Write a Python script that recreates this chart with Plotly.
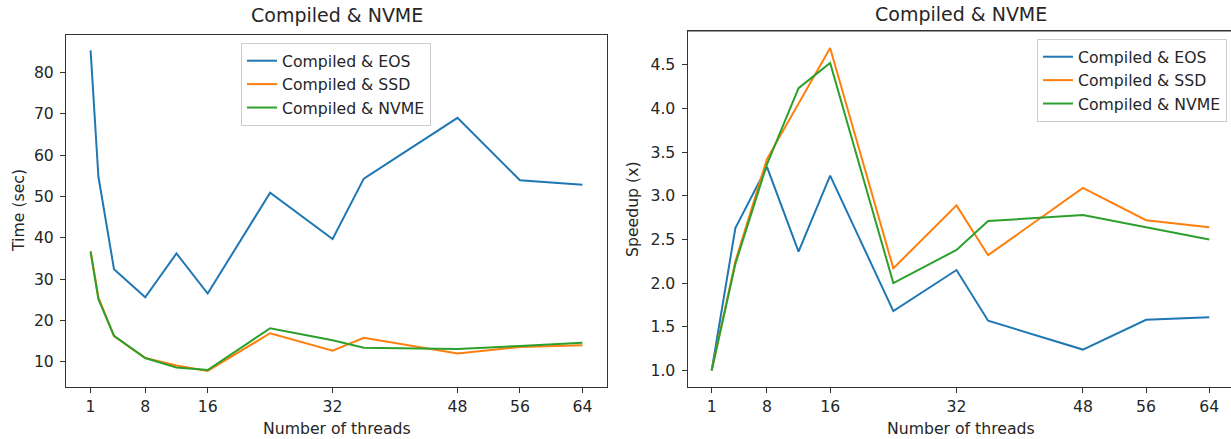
import plotly.graph_objects as go

# Thread counts used for each panel
threads_time = [1, 2, 4, 8, 12, 16, 24, 32, 36, 48, 56, 64]
threads_speedup = [1, 4, 8, 12, 16, 24, 32, 36, 48, 56, 64]
x_ticks = [1, 8, 16, 32, 48, 56, 64]

# Wall-clock time (sec)
time_eos = [85.3, 54.8, 32.4, 25.6, 36.2, 26.5, 50.9, 39.7, 54.3, 69.0, 53.9, 52.8]
time_ssd = [36.8, 25.6, 16.2, 10.9, 9.1, 7.8, 16.9, 12.7, 15.8, 12.0, 13.6, 14.0]
time_nvme = [36.6, 25.1, 16.3, 10.9, 8.6, 8.0, 18.1, 15.2, 13.4, 13.1, 13.8, 14.6]

# Speedup relative to a single thread
speedup_eos = [1.0, 2.63, 3.33, 2.36, 3.23, 1.68, 2.15, 1.57, 1.24, 1.58, 1.61]
speedup_ssd = [1.0, 2.25, 3.42, 4.05, 4.69, 2.17, 2.89, 2.32, 3.09, 2.72, 2.64]
speedup_nvme = [1.0, 2.22, 3.36, 4.23, 4.52, 2.00, 2.38, 2.71, 2.78, 2.64, 2.50]

series_names = ["Compiled & EOS", "Compiled & SSD", "Compiled & NVME"]
colors = ["#1f77b4", "#ff7f0e", "#2ca02c"]

W, H = 1231, 439
FONT = "DejaVu Sans"
TXT = "#262626"
FS = 15.7
FS_TITLE = 19

fig = go.Figure()

for name, ys, c in zip(series_names, [time_eos, time_ssd, time_nvme], colors):
    fig.add_trace(go.Scatter(x=threads_time, y=ys, mode="lines", name=name,
                             line=dict(color=c, width=2),
                             xaxis="x", yaxis="y", legend="legend"))

for name, ys, c in zip(series_names, [speedup_eos, speedup_ssd, speedup_nvme], colors):
    fig.add_trace(go.Scatter(x=threads_speedup, y=ys, mode="lines", name=name,
                             line=dict(color=c, width=2),
                             xaxis="x2", yaxis="y2", legend="legend2"))


def px_x(v):
    return v / W


def px_y(v):
    return 1 - v / H


axis_common = dict(
    showgrid=False, zeroline=False, showline=True, linecolor="#333333",
    linewidth=1, ticks="outside", ticklen=5, tickwidth=1, tickcolor="#333333",
    tickfont=dict(family=FONT, size=FS, color=TXT),
)

legend_common = dict(bgcolor="rgba(255,255,255,0.8)", bordercolor="#cccccc",
                     borderwidth=1, font=dict(family=FONT, size=FS, color=TXT))

fig.update_layout(
    width=W, height=H,
    margin=dict(l=0, r=0, t=0, b=0),
    paper_bgcolor="white", plot_bgcolor="white",
    font=dict(family=FONT, size=FS, color=TXT),
    showlegend=True,
    xaxis=dict(domain=[px_x(66), px_x(607)], range=[-2.15, 67.15],
               tickvals=x_ticks, mirror=True, anchor="y", **axis_common),
    yaxis=dict(domain=[px_y(387), px_y(34.7)], range=[3.9, 89.1],
               tickvals=[10, 20, 30, 40, 50, 60, 70, 80], mirror=True,
               anchor="x", ticklabelstandoff=3, **axis_common),
    xaxis2=dict(domain=[px_x(687.5), 1.0], range=[-2.06, 66.75],
                tickvals=x_ticks, mirror=True, anchor="y2", **axis_common),
    yaxis2=dict(domain=[px_y(386.7), px_y(31)], range=[0.815, 4.885],
                tickvals=[1.0, 1.5, 2.0, 2.5, 3.0, 3.5, 4.0, 4.5],
                ticktext=["1.0", "1.5", "2.0", "2.5", "3.0", "3.5", "4.0", "4.5"],
                mirror=False, anchor="x2", ticklabelstandoff=3, **axis_common),
    legend=dict(x=px_x(336), xanchor="center", y=px_y(43), yanchor="top",
                **legend_common),
    legend2=dict(x=px_x(1227), xanchor="right", y=px_y(39), yanchor="top",
                 **legend_common),
)

# Top border of the right panel
fig.add_shape(type="line", xref="paper", yref="paper",
              x0=px_x(687.5), x1=1.0, y0=px_y(31), y1=px_y(31),
              line=dict(color="#333333", width=1))

annotations = [
    dict(text="Compiled & NVME", x=px_x(336.5), y=px_y(15), size=FS_TITLE),
    dict(text="Compiled & NVME", x=px_x(960.5), y=px_y(14), size=FS_TITLE),
    dict(text="Number of threads", x=px_x(336.5), y=px_y(428), size=FS),
    dict(text="Number of threads", x=px_x(960.5), y=px_y(428), size=FS),
    dict(text="Time (sec)", x=px_x(18), y=px_y(211), size=FS, textangle=-90),
    dict(text="Speedup (x)", x=px_x(632), y=px_y(209), size=FS, textangle=-90),
]
for a in annotations:
    size = a.pop("size")
    fig.add_annotation(xref="paper", yref="paper", showarrow=False,
                       xanchor="center", yanchor="middle",
                       font=dict(family=FONT, color=TXT, size=size), **a)

fig.write_html("out.html")
